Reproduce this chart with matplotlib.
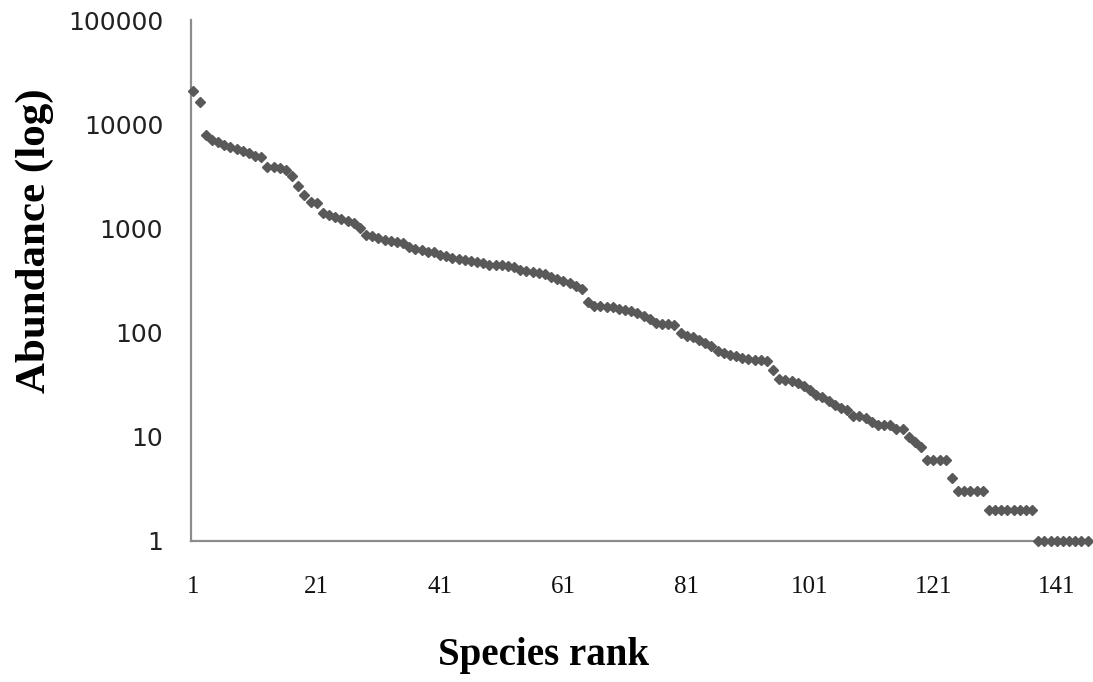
import numpy as np
import matplotlib.pyplot as plt
from matplotlib.ticker import FixedLocator, NullLocator

# abundance of each species, sorted by rank
abundance = [
    21000, 16500, 7900, 7100, 6700, 6300, 6000, 5800, 5500, 5300,
    5000, 4800, 3900, 3850, 3800, 3600, 3200, 2550, 2100, 1780,
    1750, 1400, 1350, 1300, 1230, 1190, 1130, 1000, 870, 840,
    805, 780, 760, 740, 725, 665, 636, 626, 600, 590,
    557, 541, 525, 510, 500, 490, 480, 470, 450, 449,
    445, 435, 424, 402, 390, 382, 375, 365, 340, 325,
    310, 297, 282, 262, 198, 182, 180, 178, 176, 168,
    164, 160, 155, 145, 135, 125, 122, 120, 118, 99,
    93, 90, 85, 79, 74, 67, 64, 61, 59, 57,
    56, 55, 54, 53, 44, 36, 35, 34, 33, 31,
    28, 25, 24, 22, 20, 19, 18, 16, 16, 15,
    14, 13, 13, 13, 12, 12, 10, 9, 8, 6,
    6, 6, 6, 4, 3, 3, 3, 3, 3, 2,
    2, 2, 2, 2, 2, 2, 2, 1, 1, 1,
    1, 1, 1, 1, 1, 1,
]
rank = np.arange(1, len(abundance) + 1)

x_ticks = [1, 21, 41, 61, 81, 101, 121, 141]
y_ticks = [1, 10, 100, 1000, 10000, 100000]
y_tick_labels = ["1", "10", "100", "1000", "10000", "100000"]

fig = plt.figure(figsize=(10.93, 6.82), dpi=100)
ax = fig.add_axes([191 / 1093, 1 - 541 / 682, 899 / 1093, 521 / 682])

ax.plot(rank, abundance, linestyle="none", marker="D", ms=5,
        color="#595959", mec="#595959", clip_on=False, zorder=5)

ax.set_yscale("log")
ax.set_ylim(1, 100000)
ax.set_xlim(0.6, 146.4)

ax.yaxis.set_major_locator(FixedLocator(y_ticks))
ax.yaxis.set_minor_locator(NullLocator())
ax.set_yticklabels(y_tick_labels, family="DejaVu Sans", fontsize=18, color="#222222")
ax.set_xticks(x_ticks)
ax.set_xticklabels([str(t) for t in x_ticks], family="Liberation Serif",
                   fontsize=18, color="#111111")
ax.tick_params(axis="y", length=0, pad=20)
ax.tick_params(axis="x", length=0, pad=25)

for side in ["top", "right"]:
    ax.spines[side].set_visible(False)
for side in ["left", "bottom"]:
    ax.spines[side].set_color("#8c8c8c")
    ax.spines[side].set_linewidth(1.6)

fig.text(544 / 1093, 1 - 655 / 682, "Species rank", family="Liberation Serif",
         fontweight="bold", fontsize=28, ha="center", va="center")
fig.text(35 / 1093, 1 - 241 / 682, "Abundance (log)", family="Liberation Serif",
         fontweight="bold", fontsize=31, ha="center", va="center", rotation=90)

fig.savefig("out.png", dpi=100)
